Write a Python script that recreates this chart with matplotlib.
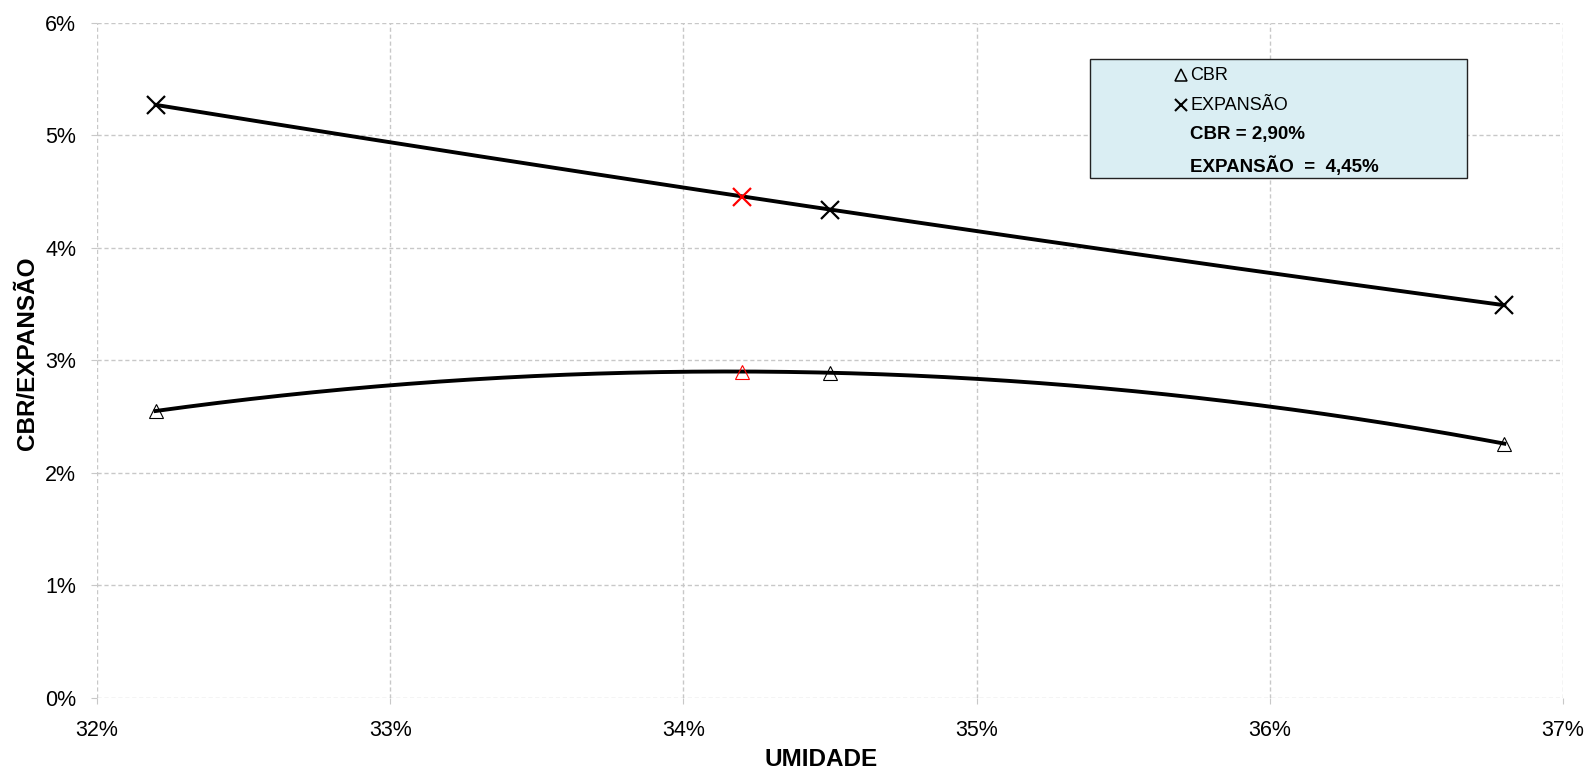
import numpy as np
import matplotlib
matplotlib.use("Agg")
import matplotlib.pyplot as plt
from matplotlib.patches import Rectangle
from matplotlib.ticker import FuncFormatter

plt.rcParams['font.family'] = ['Liberation Sans', 'DejaVu Sans']

# Data (humidity %, values %)
umidade = [32.2, 34.5, 36.8]
cbr = [2.55, 2.89, 2.26]
expansao = [5.27, 4.34, 3.49]
umidade_otima = 34.2
cbr_otimo = 2.90
expansao_otima = 4.45
xticks = [32, 33, 34, 35, 36, 37]
yticks = [0, 1, 2, 3, 4, 5, 6]

W, H = 1588, 773
fig = plt.figure(figsize=(W / 100, H / 100), dpi=100)
ax = fig.add_axes([97 / W, 1 - 698 / H, (1563 - 97) / W, (698 - 22.7) / H])

# trendlines (2nd order polynomial, like Excel)
xs = np.linspace(umidade[0], umidade[-1], 300)
pc = np.polyfit(umidade, cbr, 2)
pe = np.polyfit(umidade, expansao, 2)
ax.plot(xs, np.polyval(pc, xs), color='black', lw=2.8, zorder=3)
ax.plot(xs, np.polyval(pe, xs), color='black', lw=2.8, zorder=3)

ax.plot(umidade, cbr, linestyle='none', marker='^', markersize=10,
        markerfacecolor='none', markeredgecolor='black', markeredgewidth=0.8, zorder=4)
ax.plot(umidade, expansao, linestyle='none', marker='x', markersize=13,
        markeredgecolor='black', markeredgewidth=1.6, zorder=4)
ax.plot([umidade_otima], [cbr_otimo], linestyle='none', marker='^', markersize=10,
        markerfacecolor='none', markeredgecolor='red', markeredgewidth=0.8, zorder=4)
ax.plot([umidade_otima], [expansao_otima], linestyle='none', marker='x', markersize=13,
        markeredgecolor='red', markeredgewidth=1.6, zorder=4)

ax.set_xlim(xticks[0], xticks[-1])
ax.set_ylim(yticks[0], yticks[-1])
ax.set_xticks(xticks)
ax.set_yticks(yticks)
ax.xaxis.set_major_formatter(FuncFormatter(lambda v, p: f"{v:.0f}%"))
ax.yaxis.set_major_formatter(FuncFormatter(lambda v, p: f"{v:.0f}%"))
ax.tick_params(labelsize=15.5, length=4, color='#c8c8c8')
ax.tick_params(axis='x', pad=12)
ax.tick_params(axis='y', pad=11)
ax.grid(True, color='#c8c8c8', linestyle=(0, (3, 2)), lw=1.0)
for s in ax.spines.values():
    s.set_visible(False)

fig.text(821 / W, 1 - 760 / H, 'UMIDADE', ha='center', va='center',
         fontsize=17.5, fontweight='bold')
fig.text(28 / W, 1 - 353 / H, 'CBR/EXPANSÃO', ha='center', va='center',
         rotation=90, fontsize=17.5, fontweight='bold')

# legend box
bx0, by0, bx1, by1 = 1090, 59, 1467, 178
fig.patches.append(Rectangle((bx0 / W, 1 - by1 / H), (bx1 - bx0) / W, (by1 - by0) / H,
                             transform=fig.transFigure, facecolor='#DAEEF3',
                             edgecolor='#222222', lw=1.0, zorder=5))
fig.lines.append(plt.Line2D([1181 / W], [1 - 75 / H], transform=fig.transFigure,
                            marker='^', markersize=8, markerfacecolor='none',
                            markeredgecolor='black', markeredgewidth=1.1, zorder=6))
fig.lines.append(plt.Line2D([1181 / W], [1 - 105 / H], transform=fig.transFigure,
                            marker='x', markersize=8, markeredgecolor='black',
                            markeredgewidth=1.5, zorder=6))
fig.text(1190 / W, 1 - 76 / H, 'CBR', fontsize=13, va='center', zorder=6)
fig.text(1190 / W, 1 - 105 / H, 'EXPANSÃO', fontsize=13, va='center', zorder=6)
fig.text(1190 / W, 1 - 135 / H, f'CBR = {cbr_otimo:.2f}%'.replace('.', ','),
         fontsize=13.5, fontweight='bold', va='center', zorder=6)
fig.text(1190 / W, 1 - 166 / H, f'EXPANSÃO  =  {expansao_otima:.2f}%'.replace('.', ','),
         fontsize=13.5, fontweight='bold', va='center', zorder=6)

fig.savefig('out.png', dpi=100)
